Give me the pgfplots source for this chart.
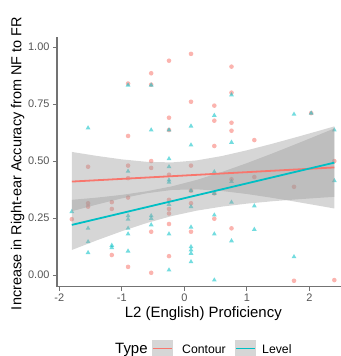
\documentclass[border=0pt]{standalone}
\usepackage{pgfplots}
\pgfplotsset{compat=1.18}
\usepackage{pgfplotstable}
\usepackage{fontspec}
\setmainfont{Liberation Sans}
\definecolor{cred}{HTML}{F8766D}
\definecolor{ccyan}{HTML}{00BFC4}
\definecolor{tickgrey}{HTML}{555555}
\definecolor{keygrey}{HTML}{D6D6D6}

\pgfplotstableread{
x y
-1.80 0.245
-1.54 0.475
-1.54 0.315
-1.54 0.300
-1.16 0.320
-1.16 0.290
-1.16 0.088
-0.90 0.840
-0.90 0.610
-0.90 0.480
-0.90 0.425
-0.90 0.340
-0.90 0.036
-0.53 0.885
-0.53 0.835
-0.53 0.500
-0.53 0.470
-0.53 0.190
-0.53 0.010
-0.245 0.940
-0.245 0.690
-0.245 0.636
-0.245 0.440
-0.245 0.330
-0.245 0.290
-0.245 0.270
-0.245 0.224
-0.245 0.083
0.107 0.970
0.107 0.760
0.107 0.480
0.107 0.370
0.107 0.315
0.107 0.190
0.48 0.743
0.48 0.677
0.48 0.566
0.48 0.358
0.48 0.247
0.755 0.914
0.755 0.800
0.755 0.668
0.755 0.633
0.755 0.420
0.755 0.205
1.12 0.592
1.12 0.430
1.755 0.387
1.755 -0.025
2.03 0.710
2.40 0.500
2.40 -0.022
}\contour

\pgfplotstableread{
x y
-1.80 0.278
-1.54 0.645
-1.54 0.205
-1.54 0.146
-1.54 0.098
-1.16 0.130
-1.16 0.120
-0.90 0.833
-0.90 0.455
-0.90 0.260
-0.90 0.245
-0.90 0.205
-0.90 0.180
-0.90 0.105
-0.53 0.833
-0.53 0.636
-0.53 0.260
-0.53 0.248
-0.53 0.220
-0.245 0.636
-0.245 0.510
-0.245 0.475
-0.245 0.417
-0.245 0.407
-0.245 0.310
-0.245 0.180
-0.245 0.022
0.107 0.653
0.107 0.570
0.107 0.370
0.107 0.300
0.107 0.210
0.107 0.124
0.107 0.110
0.107 0.095
0.107 0.058
0.48 0.700
0.48 0.453
0.48 0.358
0.48 0.263
0.48 0.180
0.48 -0.022
0.755 0.790
0.755 0.582
0.755 0.410
0.755 0.319
0.755 0.150
1.12 0.303
1.12 0.200
1.755 0.705
1.755 0.080
2.03 0.710
2.40 0.636
2.40 0.414
}\level

\begin{document}
\begin{tikzpicture}
\begin{axis}[
  name=ax, scale only axis, width=292bp, height=249.7bp,
  xmin=-2.037, xmax=2.635, ymin=-0.051, ymax=1.044,
  axis lines=left, axis line style={-, draw=black!55, line width=1.1bp},
  tick align=outside, major tick length=4bp,
  tick style={draw=black!55, line width=0.8bp},
  xtick={-2,-1,0,1,2}, ytick={0,0.25,0.5,0.75,1},
  yticklabel style={/pgf/number format/.cd, fixed, fixed zerofill, precision=2},
  /pgf/number format/assume math mode=true,
  ticklabel style={font=\fontsize{11}{12}\selectfont, text=tickgrey},
  clip mode=individual,
]
\addplot[only marks, mark=*, mark size=2.3bp, draw=none, fill=cred, fill opacity=0.55, draw opacity=0] table {\contour};
\addplot[only marks, mark=triangle*, mark size=2.8bp, draw=none, fill=ccyan, fill opacity=0.55, draw opacity=0] table {\level};
% confidence bands
\addplot[draw=none, fill=black!40, fill opacity=0.4] coordinates {
(-1.8,0.540)(-1.4,0.5226)(-1.0,0.5074)(-0.6,0.4966)(-0.2,0.4940)(0.2,0.5029)(0.6,0.5220)(1.0,0.5471)(1.4,0.5754)(1.8,0.6054)(2.2,0.6363)(2.4,0.652)
(2.4,0.292)(2.2,0.3017)(1.8,0.3208)(1.4,0.3390)(1.0,0.3555)(0.6,0.3688)(0.2,0.3761)(-0.2,0.3732)(-0.6,0.3588)(-1.0,0.3362)(-1.4,0.3092)(-1.8,0.280)} -- cycle;
\addplot[draw=none, fill=black!40, fill opacity=0.4] coordinates {
(-1.8,0.330)(-1.4,0.3396)(-1.0,0.3517)(-0.6,0.3676)(-0.2,0.3891)(0.2,0.4174)(0.6,0.4519)(1.0,0.4908)(1.4,0.5325)(1.8,0.5760)(2.2,0.6205)(2.4,0.643)
(2.4,0.343)(2.2,0.3395)(1.8,0.3320)(1.4,0.3235)(1.0,0.3132)(0.6,0.3001)(0.2,0.2826)(-0.2,0.2589)(-0.6,0.2284)(-1.0,0.1923)(-1.4,0.1524)(-1.8,0.110)} -- cycle;
% fitted lines
\addplot[cred, line width=1.8bp] coordinates {(-1.8,0.410)(2.4,0.472)};
\addplot[ccyan, line width=1.8bp] coordinates {(-1.8,0.220)(2.4,0.493)};
\end{axis}
\pgfresetboundingbox
\coordinate (O) at ([xshift=-57bp, yshift=286.7bp]ax.south west);
\useasboundingbox (O) rectangle ([xshift=341bp, yshift=-356bp]O);
\begin{scope}[shift={(O)}, x=1bp, y=-1bp]
  \node[rotate=90, anchor=base, font=\fontsize{14.5}{17}\selectfont, inner sep=0pt] at (21.5,163.5) {Increase in Right-ear Accuracy from NF to FR};
  \node[anchor=base, font=\fontsize{15}{17}\selectfont, inner sep=0pt] at (203.3,317.5) {L2 (English) Proficiency};
  \node[anchor=base west, font=\fontsize{15}{17}\selectfont, inner sep=0pt] at (115,353.5) {Type};
  \fill[keygrey] (152,340) rectangle (173,357);
  \draw[cred, line width=1.8bp] (153,348.5) -- (172,348.5);
  \node[anchor=base west, font=\fontsize{12.3}{14}\selectfont, inner sep=0pt] at (182,353.5) {Contour};
  \fill[keygrey] (235.5,340) rectangle (256.5,357);
  \draw[ccyan, line width=1.8bp] (236.5,348.5) -- (255.5,348.5);
  \node[anchor=base west, font=\fontsize{12.3}{14}\selectfont, inner sep=0pt] at (262,353.5) {Level};
\end{scope}
\end{tikzpicture}
\end{document}
